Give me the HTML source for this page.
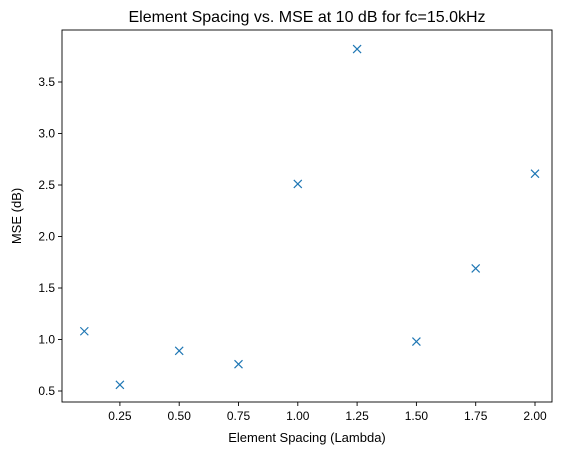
<!DOCTYPE html>
<html><head><meta charset="utf-8"><style>
body{margin:0;background:#fff;}
svg{display:block;font-family:"Liberation Sans","DejaVu Sans",sans-serif;}
</style></head><body>
<svg id="chart" width="567" height="455">
<rect x="0" y="0" width="567" height="455" fill="#fff"/>
<text x="307" y="22" text-anchor="middle" font-size="16">Element Spacing vs. MSE at 10 dB for fc=15.0kHz</text>
<g id="xticks"></g>
<g id="yticks"></g>
<g id="points"></g>
<rect x="62" y="30" width="490" height="372" fill="none" stroke="#000" stroke-width="0.9"/>
<text x="307" y="442" text-anchor="middle" font-size="13">Element Spacing (Lambda)</text>
<text x="0" y="0" transform="translate(21,216) rotate(-90)" text-anchor="middle" font-size="13">MSE (dB)</text>
</svg>
<script>
const spacing=[0.1,0.25,0.5,0.75,1.0,1.25,1.5,1.75,2.0];
const mse=[1.08,0.56,0.89,0.76,2.51,3.82,0.98,1.69,2.61];
const xTicks=[0.25,0.5,0.75,1.0,1.25,1.5,1.75,2.0];
const yTicks=[0.5,1.0,1.5,2.0,2.5,3.0,3.5];
const NS="http://www.w3.org/2000/svg";
function xs(v){return 535-(2-v)*237.2;}
function ys(v){return 391-(v-0.5)*103;}
function mk(t,a,p){const e=document.createElementNS(NS,t);for(const k in a)e.setAttribute(k,a[k]);p.appendChild(e);return e;}
const gx=document.getElementById('xticks'),gy=document.getElementById('yticks'),gp=document.getElementById('points');
xTicks.forEach(v=>{const x=xs(v);
const l=mk('line',{x1:x,x2:x,y1:402,y2:406,stroke:'#000','stroke-width':0.9},gx);


const t=mk('text',{x:x,y:420,'text-anchor':'middle','font-size':12},gx);t.textContent=v.toFixed(2);

});
yTicks.forEach(v=>{const y=ys(v);
const l=mk('line',{x1:58,x2:62,y1:y,y2:y,stroke:'#000','stroke-width':0.9},gy);


const t=mk('text',{x:55,y:y+4,'text-anchor':'end','font-size':12},gy);t.textContent=v.toFixed(1);

});
spacing.forEach((s,i)=>{const x=xs(s),y=ys(mse[i]),d=4;
const p=mk('path',{d:`M${x-d},${y-d}L${x+d},${y+d}M${x-d},${y+d}L${x+d},${y-d}`,stroke:'#1f77b4','stroke-width':1.2,fill:'none'},gp);

});
</script>
</body></html>
